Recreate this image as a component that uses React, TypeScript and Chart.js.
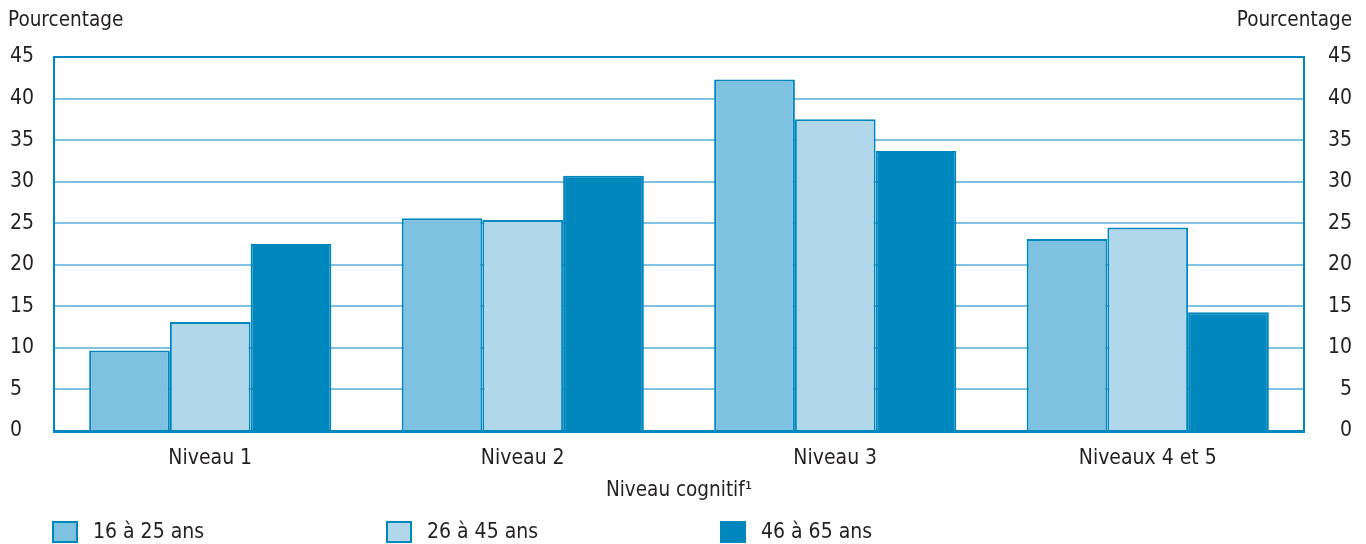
import React, { useEffect, useRef } from 'react';
import { Chart, registerables } from 'chart.js';

Chart.register(...registerables);

const categories = ['Niveau 1', 'Niveau 2', 'Niveau 3', 'Niveaux 4 et 5'];
const seriesLabels = ['16 à 25 ans', '26 à 45 ans', '46 à 65 ans'];
const age16to25 = [9.7, 25.6, 42.3, 23.1];
const age26to45 = [13.1, 25.4, 37.5, 24.5];
const age46to65 = [22.5, 30.7, 33.7, 14.3];
const yAxisTitle = 'Pourcentage';
const xAxisTitle = 'Niveau cognitif¹';
const yMin = 0;
const yMax = 45;
const yStep = 5;

const fillColors = ['#7fc1e0', '#b0d8ea', '#0088be'];
const BORDER = '#0088be';
const GRID = '#7fc1e0';
const TEXT = '#231f20';
const FONT = '"DejaVu Sans Condensed", "Liberation Sans Narrow", "Liberation Sans", sans-serif';

const extrasPlugin = {
  id: 'extras',
  afterDraw(chart: any) {
    const ctx = chart.ctx;
    ctx.save();
    ctx.fillStyle = TEXT;
    ctx.font = `20.5px ${FONT}`;
    ctx.textBaseline = 'middle';
    ctx.textAlign = 'left';
    ctx.fillText(yAxisTitle, 8, 21);
    ctx.textAlign = 'right';
    ctx.fillText(yAxisTitle, 1352, 21);

    // legend
    ctx.font = `21px ${FONT}`;
    ctx.textAlign = 'left';
    chart.data.datasets.forEach((ds: any, i: number) => {
      const x = 52 + i * 334;
      const y = 521;
      ctx.fillStyle = ds.backgroundColor;
      ctx.fillRect(x, y, 26, 22);
      ctx.strokeStyle = BORDER;
      ctx.lineWidth = 2;
      ctx.strokeRect(x + 1, y + 1, 24, 20);
      ctx.fillStyle = TEXT;
      ctx.fillText(ds.label, x + 41, 533);
    });
    ctx.restore();
  },
};

export default function App() {
  const ref = useRef<HTMLCanvasElement | null>(null);

  useEffect(() => {
    if (!ref.current) return;
    const series = [age16to25, age26to45, age46to65];
    const chart = new Chart(ref.current, {
      type: 'bar',
      data: {
        labels: categories,
        datasets: series.map((d, i) => ({
          label: seriesLabels[i],
          data: d,
          backgroundColor: fillColors[i],
          borderColor: BORDER,
          borderWidth: 2,
          borderSkipped: 'bottom',
          categoryPercentage: 0.775,
          barPercentage: 1,
          yAxisID: 'y',
        })),
      },
      options: {
        animation: false,
        responsive: false,
        maintainAspectRatio: false,
        layout: { padding: { left: 10, right: 14, top: 57, bottom: 38 } },
        plugins: {
          legend: { display: false },
          tooltip: { enabled: false },
          title: { display: false },
        },
        scales: {
          x: {
            grid: { display: false, drawTicks: false },
            border: { display: true, color: BORDER, width: 3 },
            ticks: { color: TEXT, font: { family: FONT, size: 21 }, padding: 15 },
            title: {
              display: true,
              text: xAxisTitle,
              color: TEXT,
              font: { family: FONT, size: 20.5 },
              padding: { top: 3, bottom: 3 },
            },
            afterFit(scale: any) {
              scale.height = 75;
            },
          },
          y: {
            position: 'left',
            min: yMin,
            max: yMax,
            ticks: {
              stepSize: yStep,
              color: TEXT,
              crossAlign: 'far',
              padding: 20,
              font: { family: FONT, size: 21 },
            },
            grid: {
              drawTicks: false,
              lineWidth: 2,
              color: (c: any) => (c.tick && c.tick.value === yMax ? BORDER : GRID),
            },
            border: { display: true, color: BORDER, width: 2 },
            afterFit(scale: any) {
              scale.width = 44;
            },
          },
          y2: {
            position: 'right',
            min: yMin,
            max: yMax,
            ticks: {
              stepSize: yStep,
              color: TEXT,
              crossAlign: 'far',
              padding: 14,
              font: { family: FONT, size: 21 },
            },
            grid: { display: false, drawTicks: false },
            border: { display: true, color: BORDER, width: 2 },
            afterFit(scale: any) {
              scale.width = 48;
            },
          },
        },
      },
      plugins: [extrasPlugin],
    } as any);
    return () => chart.destroy();
  }, []);

  return (
    <div style={{ position: 'fixed', left: 0, top: 0, width: 1366, height: 544, background: '#fff' }}>
      <canvas ref={ref} width={1366} height={544} style={{ width: 1366, height: 544, display: 'block' }} />
    </div>
  );
}
